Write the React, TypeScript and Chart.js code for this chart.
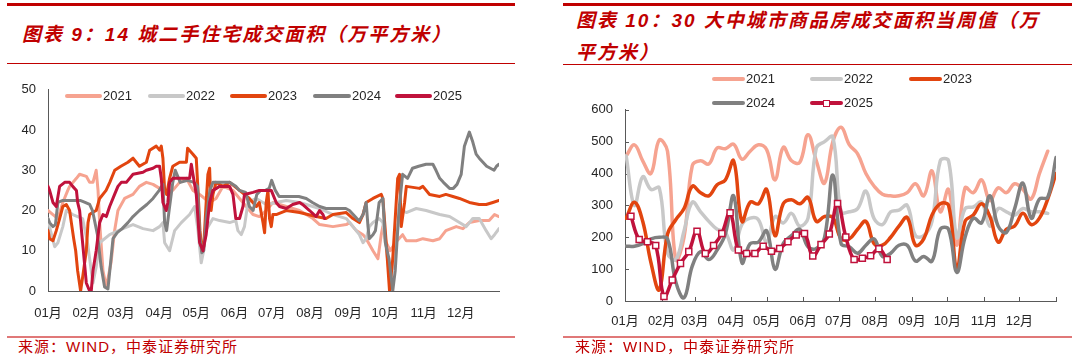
import React, { useEffect, useRef } from 'react';
import { Chart, registerables } from 'chart.js';

Chart.register(...registerables);

// ---------- shared axis data ----------
const MONTH_LABELS = ['01月', '02月', '03月', '04月', '05月', '06月', '07月', '08月', '09月', '10月', '11月', '12月'];
const MONTH_START_DAYS = [0, 31, 59, 90, 120, 151, 181, 212, 243, 273, 304, 334];
const YEAR_DAYS = 365;
const YEARS = ['2021', '2022', '2023', '2024', '2025'];
const COLORS = ['#F6A390', '#C8C8C8', '#E2450F', '#808080', '#C0123C'];

// ---------- chart 9: 14城二手住宅成交面积 [day of year, 万平方米] ----------
const SH_2021: [number, number][] = [[0,20],[4,19],[8,18],[12,22],[16,25],[17.5,26],[23,28],[25.6,29],[31,28.5],[33.7,27],[36.4,27],[39,30],[40.5,25],[41.8,17],[44.5,5],[47.2,1],[51,7],[53.9,15],[56.6,20],[62,23],[68.8,24],[74,26],[79.6,27],[85,26.5],[93,25],[95.7,24.5],[101,25],[106.5,27],[112,28],[117.3,25],[122.7,24],[130.8,22],[136,23],[141.6,26],[149.7,25],[155,23],[160.5,21],[165.9,19],[171,18.5],[176.6,20],[182,22],[187.4,21.5],[192.8,21],[198,20.5],[203.6,20],[209,19],[214.4,18],[219.8,16.5],[230.6,16],[241.4,16.5],[244,17],[249.5,15],[254.9,14],[257.5,13],[263,10],[267,8],[269.7,14],[271,16],[273.7,12],[277,10],[281,12],[287,14],[290,12.5],[298,12.5],[303.4,13],[311.5,12.5],[317,13],[322,15],[330.4,16],[335.8,15.5],[341,17],[349,17.5],[357,17.5],[361.4,19],[365,18.5]];
const SH_2022: [number, number][] = [[0,18],[2,15],[5.4,11],[8,12],[12,16],[14.8,20],[20,19],[28,18],[32,12],[35,5],[36.4,2],[39,6],[41.8,12],[49.9,14],[60.7,15.5],[68.8,16.5],[76.9,15.5],[85,15],[90.3,16],[93,17],[94.4,12],[98.4,10],[102.5,15],[107.9,17],[114.6,19],[118.7,21],[121.4,15],[124,7],[126,10],[127.6,15],[133.5,18],[138.9,17.5],[147,17],[152,17.5],[153.7,15],[156.4,14],[159,16],[161.8,22],[168.6,23],[176.6,21.5],[184.7,22],[192.8,22.5],[203.6,22],[214.4,21],[219.8,20.5],[230.6,19],[241.4,18],[246.8,16],[252,14],[254.9,12],[257.5,13],[260,16],[263,17],[268,18],[271,17],[274,10],[277,2],[280,8],[284,18],[287,20],[290,19.5],[298,20.5],[306,20],[317,19],[325,18.5],[333,17],[338.5,16],[343.8,18],[349,18],[354.6,15],[358.6,13],[361.4,14],[365,15.5]];
const SH_2023: [number, number][] = [[0,15],[1.3,13],[4,12.5],[6.7,15],[9.4,18],[12,21],[14.8,21.5],[17.5,20],[18.9,17],[20.8,13],[22.4,10],[24,5],[26.4,0],[28.3,4],[31,10],[32.4,17],[33.7,19],[36,19.5],[39,20],[41.8,23],[47,25],[50,27],[54,30],[59,31],[64.7,32],[68.8,33],[74,31],[79.6,32],[82.3,35],[87.6,36],[90.3,35],[91.7,36],[93,33],[94.4,25],[96,24],[98.4,28],[101,31],[106.5,32],[112,32],[113,35.5],[117.3,34],[120,33],[121.4,25],[123,15],[124.5,10],[126,11],[128,22],[129.4,29],[130.8,30.5],[132,20],[133.5,24],[136,27],[141.6,26],[147,27],[155,25],[163,23],[168.6,21],[171,22],[174,17],[175.3,14.5],[176.6,22],[178,25],[179.3,18],[180.7,16],[182,19],[184.7,19],[192.8,20],[203.6,19.5],[217,18.5],[225,18],[230.6,19],[241.4,19.5],[246.8,18],[252,17],[254.9,19],[257.5,22],[263,23],[269.7,24],[271,23],[273.7,12],[276.4,0],[279,8],[283,28],[284.5,29],[285.9,16],[288.6,22],[290,26],[300.7,25.5],[303.4,26],[308.8,24],[317,23.5],[322,24],[327.7,23.5],[333,23],[341,22],[349,21.5],[354.6,21.5],[360,22],[365,22.5]];
const SH_2024: [number, number][] = [[0,18],[1.3,17],[4,16],[6,16.5],[8,22],[12,22.5],[20,22.5],[26,22.5],[30,22],[33.7,21.5],[36,20],[40,14],[43,6],[45.8,1],[48.5,0.5],[50,5],[52.6,13],[56,14.5],[60,15.5],[64.7,17],[68.8,18.5],[74,20],[80,21.5],[85,23],[90,25],[93,26.5],[94.4,17],[96,15],[98,20],[101,27],[103,30],[107,27],[113,27.5],[118,27],[121,26],[122.7,14],[124.5,9.5],[126,10],[128,18],[131,25],[133.5,27],[140,27],[147,27],[152,26],[155,25],[160,24.5],[163,21],[166,20],[169,24],[172,25],[176,25],[179,25.5],[181,27.5],[184,25],[187,23.5],[195,23.5],[203,23.5],[209,23],[214,22],[219.8,21],[225,20.5],[231,20.5],[241,20.5],[244,20],[247,19],[250,18],[252,17.5],[255,19],[257.5,22],[259,16],[260,13],[263,14],[265,15],[268,22],[271,23],[273,12],[276,8],[279,0],[281,5],[284,20],[287,29],[291,28],[295,30.5],[300,31],[306,31.5],[311.5,31.5],[314,30],[317,28],[320,27],[325,25.5],[328,25.5],[331,26.5],[334.4,29],[337,36],[341,39.5],[343.8,37],[346.5,34],[349,33],[352,32],[355,31],[358,30.5],[361,30],[363,31],[365,31.5]];
const SH_2025: [number, number][] = [[0,26],[1.3,25],[4,22],[6.7,21],[9.4,26],[13.5,27],[17.5,27],[20,26],[23,25],[24,22],[25.6,20],[28.3,11],[31,2],[33.7,0],[35,0],[36.4,5],[39,10],[41.8,17],[44.5,19],[47.2,18.5],[49.9,21],[53.9,24],[56.6,26],[59.3,27],[63.4,27],[68.8,29],[76.9,29.5],[79.6,30],[85,30.5],[87.6,31],[90.3,31],[91.7,28],[93,22],[95.7,20],[97,22],[98.4,27],[101,28],[106.5,28],[114.6,28],[116,31.5],[117.3,29],[120,24],[122.7,12],[125.4,10],[128,14],[130.8,22],[133.5,25],[138.9,26],[147,26],[149.7,24],[152,18],[155,18],[157.8,21],[159,24],[165.9,24.5],[171,25],[176.6,25],[180.7,25],[184.7,22],[187.4,21],[192.8,20.5],[198,21.5],[203.6,22],[206,21.5],[211.7,20],[217,18.5],[219.8,20],[222.5,19],[223.8,18]];
const SH_SERIES = [SH_2021, SH_2022, SH_2023, SH_2024, SH_2025];

// ---------- chart 10: 30大中城市商品房成交面积当周值 (weekly, 万平方米) ----------
const WEEK_FIRST_DAY = [1, 1, 1, 1, 5];
const NB_2021 = [455,490,440,400,505,470,130,200,425,440,430,480,478,492,445,470,490,475,380,482,440,435,522,440,370,500,545,490,462,400,360,335,330,330,340,368,330,408,280,350,175,355,340,380,315,355,340,368,350,320,400,470];
const NB_2022 = [455,300,390,350,355,150,130,220,310,280,250,225,215,160,240,260,255,185,265,245,275,235,260,480,500,515,280,280,290,345,258,240,280,285,300,205,205,250,440,440,200,290,295,310,235,290,280,270,290,280,280,275];
const NB_2023 = [260,310,250,120,35,210,255,290,360,340,330,365,380,440,250,310,305,350,205,305,318,305,325,250,265,262,195,195,225,250,180,175,200,235,262,175,195,270,305,300,100,250,270,305,265,185,225,235,275,240,260,320,400];
const NB_2024 = [172,172,180,195,200,195,60,10,110,155,130,160,210,330,120,180,185,220,100,180,205,225,170,165,200,395,180,170,150,175,195,140,150,175,175,125,140,125,225,225,90,200,260,245,330,235,215,290,370,260,320,325,450];
const NB_2025 = [266,193,186,174,14,66,118,155,219,149,174,212,277,160,149,149,172,156,165,186,207,212,141,177,210,306,201,130,134,142,164,130];
const NB_SERIES = [NB_2021, NB_2022, NB_2023, NB_2024, NB_2025];

const AXIS_COLOR = '#595959';
const TEXT_COLOR = '#262626';
const RED = '#C00000';
const TICK_FONT = { family: "'Liberation Sans', Arial, 'Noto Sans CJK SC', sans-serif", size: 13 };

function monthTicks(scale: any) {
  scale.ticks = MONTH_START_DAYS.map((v) => ({ value: v }));
}
function monthLabel(v: any) {
  const i = MONTH_START_DAYS.indexOf(Number(v));
  return i >= 0 ? MONTH_LABELS[i] : '';
}

const insideTicks = {
  id: 'insideTicks',
  beforeDatasetsDraw(chart: any) {
    const { ctx, scales } = chart;
    const x = scales.x;
    const y = scales.y;
    ctx.save();
    ctx.strokeStyle = AXIS_COLOR;
    ctx.lineWidth = 1;
    ctx.beginPath();
    [...MONTH_START_DAYS, YEAR_DAYS].forEach((d) => {
      const px = Math.round(x.getPixelForValue(d)) + 0.5;
      ctx.moveTo(px, y.bottom);
      ctx.lineTo(px, y.bottom - 4);
    });
    y.ticks.forEach((t: any) => {
      const py = Math.round(y.getPixelForValue(t.value)) + 0.5;
      ctx.moveTo(x.left, py);
      ctx.lineTo(x.left + 4, py);
    });
    ctx.stroke();
    ctx.restore();
  },
};

function baseScales(yMax: number, yStep: number, yWidth: number, xHeight: number, xPad: number) {
  return {
    x: {
      type: 'linear',
      min: 0,
      max: YEAR_DAYS,
      afterBuildTicks: monthTicks,
      afterFit: (s: any) => { s.height = xHeight; },
      grid: { display: false, drawTicks: false },
      border: { display: true, color: AXIS_COLOR, width: 1 },
      ticks: { autoSkip: false, maxRotation: 0, padding: xPad, color: TEXT_COLOR, font: TICK_FONT, callback: monthLabel },
    },
    y: {
      min: 0,
      max: yMax,
      afterFit: (s: any) => { s.width = yWidth; },
      grid: { display: false, drawTicks: false },
      border: { display: true, color: AXIS_COLOR, width: 1 },
      ticks: { stepSize: yStep, padding: 12, color: TEXT_COLOR, font: TICK_FONT },
    },
  };
}

function LegendItem({ x, y, label, color, lineW, marker }: any) {
  return (
    <>
      <div style={{ position: 'absolute', left: x, top: y - 2, width: lineW, height: 4, background: color, borderRadius: 2 }} />
      {marker && (
        <div style={{ position: 'absolute', left: x + lineW / 2 - 3.5, top: y - 3.5, width: 5, height: 5, background: '#fff', border: `1.5px solid ${color}` }} />
      )}
      <div style={{ position: 'absolute', left: x + lineW + 1, top: y - 9, height: 18, lineHeight: '18px', fontSize: 13, color: TEXT_COLOR, fontFamily: TICK_FONT.family }}>{label}</div>
    </>
  );
}

export default function App() {
  const leftRef = useRef<HTMLCanvasElement>(null);
  const rightRef = useRef<HTMLCanvasElement>(null);

  useEffect(() => {
    const left = new Chart(leftRef.current as HTMLCanvasElement, {
      type: 'line',
      data: {
        datasets: SH_SERIES.map((s, i) => ({
          label: YEARS[i],
          data: s.map(([d, v]) => ({ x: d, y: v })),
          borderColor: COLORS[i],
          borderWidth: 3,
          pointRadius: 0,
          tension: 0,
          borderJoinStyle: 'round',
          borderCapStyle: 'round',
          order: 5 - i,
        })),
      },
      options: {
        responsive: false,
        animation: false,
        devicePixelRatio: 1,
        layout: { padding: { left: 0, right: 21, top: 10, bottom: 0 } },
        plugins: { legend: { display: false }, tooltip: { enabled: false } },
        scales: baseScales(50, 10, 48, 39, 14.5) as any,
      },
    } as any);

    const right = new Chart(rightRef.current as HTMLCanvasElement, {
      type: 'line',
      data: {
        datasets: NB_SERIES.map((s, i) => ({
          label: YEARS[i],
          data: s.map((v, k) => ({ x: WEEK_FIRST_DAY[i] + 7 * k, y: v })),
          borderColor: COLORS[i],
          borderWidth: 3.5,
          pointRadius: i === 4 ? 4.3 : 0,
          pointStyle: 'rect',
          pointBackgroundColor: '#ffffff',
          pointBorderColor: COLORS[i],
          pointBorderWidth: 1.5,
          tension: 0.4,
          borderJoinStyle: 'round',
          borderCapStyle: 'round',
          order: 5 - i,
        })),
      },
      options: {
        responsive: false,
        animation: false,
        devicePixelRatio: 1,
        layout: { padding: { left: 0, right: 24, top: 19, bottom: 0 } },
        plugins: { legend: { display: false }, tooltip: { enabled: false } },
        scales: baseScales(600, 100, 85, 39, 13) as any,
      },
      plugins: [insideTicks],
    } as any);

    return () => {
      left.destroy();
      right.destroy();
    };
  }, []);

  const titleStyle: React.CSSProperties = {
    position: 'absolute',
    fontFamily: "'Liberation Sans', 'Noto Sans CJK SC', sans-serif",
    fontWeight: 'bold',
    fontStyle: 'italic',
    fontSize: 19,
    letterSpacing: 2,
    color: RED,
    whiteSpace: 'nowrap',
    lineHeight: '22px',
  };
  const footStyle: React.CSSProperties = {
    position: 'absolute',
    fontFamily: "'Liberation Sans', 'Noto Sans CJK SC', sans-serif",
    fontSize: 15,
    letterSpacing: 1,
    color: RED,
    whiteSpace: 'nowrap',
    lineHeight: '18px',
  };

  const leftLegend = [[65, 103], [148, 186], [230, 268], [313, 352], [395, 433]];
  const rightLegend = [[712, 79], [810, 79], [909, 79], [712, 103], [810, 103]];

  return (
    <div style={{ position: 'fixed', left: 0, top: 0, width: 1080, height: 359, background: '#fff', overflow: 'hidden' }}>
      {/* left panel */}
      <div style={{ position: 'absolute', left: 7, top: 3, width: 508, height: 3, background: RED }} />
      <div style={{ ...titleStyle, left: 22, top: 24 }}>图表 9：14 城二手住宅成交面积（万平方米）</div>
      <div style={{ position: 'absolute', left: 7, top: 63, width: 508, height: 1, background: RED }} />
      <canvas ref={leftRef} width={520} height={260} style={{ position: 'absolute', left: 0, top: 70, width: 520, height: 260 }} />
      {leftLegend.map(([lx, tx], i) => (
        <LegendItem key={'l' + i} x={lx} y={96} label={YEARS[i]} color={COLORS[i]} lineW={tx - lx - 1} />
      ))}
      <div style={{ position: 'absolute', left: 7, top: 336, width: 508, height: 2, background: '#E07878' }} />
      <div style={{ ...footStyle, left: 18, top: 338 }}>来源：WIND，中泰证券研究所</div>

      {/* right panel */}
      <div style={{ position: 'absolute', left: 563, top: 3, width: 509, height: 3, background: RED }} />
      <div style={{ ...titleStyle, left: 576, top: 10 }}>图表 10：30 大中城市商品房成交面积当周值（万</div>
      <div style={{ ...titleStyle, left: 576, top: 42 }}>平方米）</div>
      <div style={{ position: 'absolute', left: 563, top: 64, width: 509, height: 1, background: RED }} />
      <canvas ref={rightRef} width={540} height={250} style={{ position: 'absolute', left: 540, top: 90, width: 540, height: 250 }} />
      {rightLegend.map(([lx, ly], i) => (
        <LegendItem key={'r' + i} x={lx} y={ly} label={YEARS[i]} color={COLORS[i]} lineW={33} marker={i === 4} />
      ))}
      <div style={{ position: 'absolute', left: 563, top: 336, width: 509, height: 2, background: '#E07878' }} />
      <div style={{ ...footStyle, left: 575, top: 338 }}>来源：WIND，中泰证券研究所</div>
    </div>
  );
}
